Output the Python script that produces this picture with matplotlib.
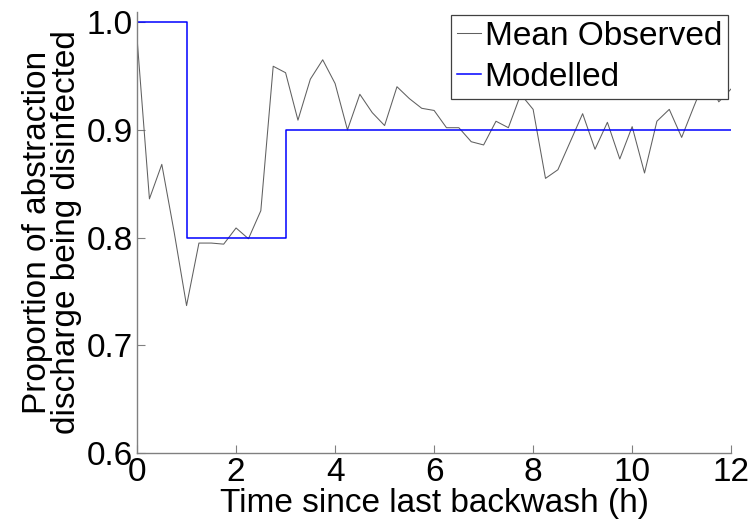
"""
Proportion of abstraction discharge being disinfected against time since
the last filter backwash: mean observed values vs. the stepped model.
"""

import matplotlib
matplotlib.use("Agg")
import matplotlib.pyplot as plt

plt.rcParams["font.family"] = ["Liberation Sans", "DejaVu Sans"]

# Mean observed proportion, sampled every 15 minutes after backwash
OBS_HOURS = [
    0.00, 0.25, 0.50, 0.75, 1.00, 1.25, 1.50, 1.75, 2.00, 2.25,
    2.50, 2.75, 3.00, 3.25, 3.50, 3.75, 4.00, 4.25, 4.50, 4.75,
    5.00, 5.25, 5.50, 5.75, 6.00, 6.25, 6.50, 6.75, 7.00, 7.25,
    7.50, 7.75, 8.00, 8.25, 8.50, 8.75, 9.00, 9.25, 9.50, 9.75,
    10.00, 10.25, 10.50, 10.75, 11.00, 11.25, 11.50, 11.75, 12.00,
]
OBS_MEAN = [
    0.985, 0.836, 0.868, 0.805, 0.737, 0.795, 0.795, 0.794, 0.809, 0.799,
    0.825, 0.959, 0.953, 0.909, 0.947, 0.965, 0.943, 0.900, 0.933, 0.916,
    0.904, 0.940, 0.929, 0.920, 0.918, 0.902, 0.902, 0.889, 0.886, 0.908,
    0.902, 0.933, 0.919, 0.855, 0.863, 0.889, 0.915, 0.882, 0.907, 0.873,
    0.903, 0.860, 0.908, 0.919, 0.893, 0.922, 0.950, 0.926, 0.938,
]

# Modelled proportion: piecewise constant between change points
MODEL_HOURS = [0, 1, 3, 12]
MODEL_VALUE = [1.0, 0.8, 0.9, 0.9]

X_TICKS = [0, 2, 4, 6, 8, 10, 12]
Y_TICKS = [0.6, 0.7, 0.8, 0.9, 1.0]

FONT_SIZE  = 24
AXIS_GREY  = "#808080"


def main() -> None:
    fig = plt.figure(figsize=(7.53, 5.22), dpi=100)
    ax = fig.add_axes([0.182, 0.1316, 0.789, 0.846])

    ax.plot(OBS_HOURS, OBS_MEAN, color="#606060", lw=0.75,
            label="Mean Observed")
    ax.step(MODEL_HOURS, MODEL_VALUE, where="post", color="#0000ff", lw=1.1,
            label="Modelled")

    ax.set_xlim(0, 12)
    ax.set_ylim(0.6, 1.0096)
    ax.set_xticks(X_TICKS)
    ax.set_yticks(Y_TICKS)
    ax.set_xticklabels([str(t) for t in X_TICKS])
    ax.set_yticklabels([f"{t:.1f}" for t in Y_TICKS])

    for sp in ("top", "right"):
        ax.spines[sp].set_visible(False)
    for sp in ("left", "bottom"):
        ax.spines[sp].set_color(AXIS_GREY)
        ax.spines[sp].set_linewidth(1.0)

    ax.tick_params(direction="in", length=5.5, width=0.8, color=AXIS_GREY,
                   labelsize=FONT_SIZE, labelcolor="black")
    ax.tick_params(axis="x", pad=3)
    ax.tick_params(axis="y", pad=3)

    ax.set_xlabel("Time since last backwash (h)", fontsize=FONT_SIZE,
                  labelpad=0)
    ax.set_ylabel("Proportion of abstraction\ndischarge being disinfected",
                  fontsize=FONT_SIZE, labelpad=3, linespacing=0.95)

    leg = ax.legend(loc="upper right",
                    bbox_to_anchor=(728 / 753, 1 - 15 / 522),
                    bbox_transform=fig.transFigure, borderaxespad=0,
                    fontsize=FONT_SIZE, frameon=True, fancybox=False,
                    framealpha=1, handlelength=0.72, handletextpad=0.12,
                    borderpad=0.18, labelspacing=0.3)
    leg.get_frame().set_edgecolor("#404040")
    leg.get_frame().set_linewidth(0.9)

    fig.savefig("out.png", dpi=100)
    plt.close(fig)


if __name__ == "__main__":
    main()
